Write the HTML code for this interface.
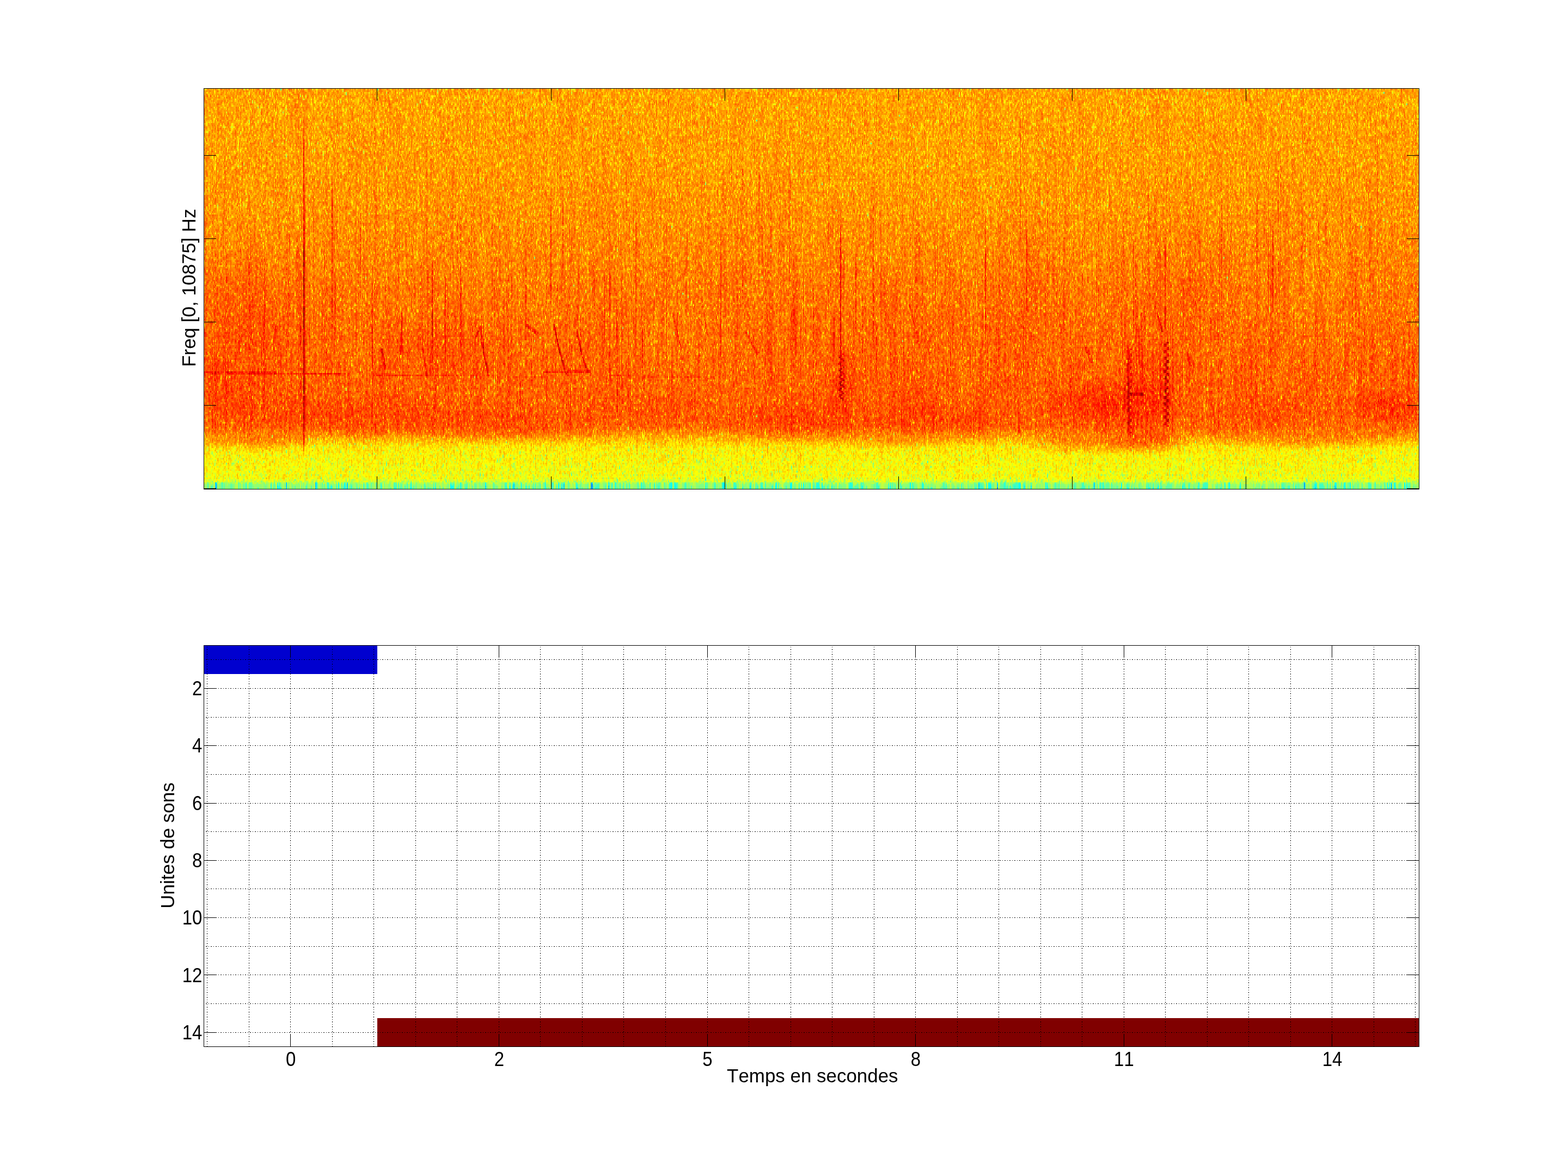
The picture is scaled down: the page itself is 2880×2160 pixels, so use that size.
<!DOCTYPE html>
<html lang="fr"><head><meta charset="utf-8"><title>Spectrogramme - Unites de sons</title>
<style>
html,body{margin:0;padding:0;background:#ffffff;overflow:hidden}
body{width:2880px;height:2160px;position:relative}
svg{position:absolute;left:0;top:0;display:block}
text{font-family:"Liberation Sans", Arial, Helvetica, sans-serif;fill:#000;font-kerning:none}
.tk{font-size:36.2px}
.lb{font-size:35.8px}
.ln{stroke:#000;stroke-width:1;fill:none;shape-rendering:crispEdges}
.gr{stroke:#000;stroke-width:1;fill:none;shape-rendering:crispEdges;stroke-dasharray:1 3 2 3}
</style></head><body>
<svg width="2880" height="2160" viewBox="0 0 2880 2160" role="img" aria-label="Spectrogramme et unites de sons">
<defs>
<linearGradient id="pg" x1="0" y1="0" x2="0" y2="1">
<stop offset="0.000" stop-color="#b5b5b5"/>
<stop offset="0.100" stop-color="#b6b6b6"/>
<stop offset="0.200" stop-color="#b7b7b7"/>
<stop offset="0.300" stop-color="#b9b9b9"/>
<stop offset="0.400" stop-color="#bbbbbb"/>
<stop offset="0.500" stop-color="#bfbfbf"/>
<stop offset="0.600" stop-color="#c2c2c2"/>
<stop offset="0.700" stop-color="#c4c4c4"/>
<stop offset="0.780" stop-color="#c6c6c6"/>
<stop offset="0.846" stop-color="#c4c4c4"/>
<stop offset="0.865" stop-color="#bbbbbb"/>
<stop offset="0.880" stop-color="#afafaf"/>
<stop offset="0.895" stop-color="#a3a3a3"/>
<stop offset="0.930" stop-color="#9f9f9f"/>
<stop offset="0.974" stop-color="#9c9c9c"/>
<stop offset="0.979" stop-color="#959595"/>
<stop offset="0.984" stop-color="#8f8f8f"/>
<stop offset="1.000" stop-color="#858585"/>
</linearGradient>
<radialGradient id="br"><stop offset="0" stop-color="#e6e6e6" stop-opacity="1"/><stop offset="0.5" stop-color="#e6e6e6" stop-opacity="0.6"/><stop offset="1" stop-color="#e6e6e6" stop-opacity="0"/></radialGradient>
<radialGradient id="bl"><stop offset="0" stop-color="#999999" stop-opacity="1"/><stop offset="0.5" stop-color="#999999" stop-opacity="0.6"/><stop offset="1" stop-color="#999999" stop-opacity="0"/></radialGradient>
<linearGradient id="sg" x1="0" y1="0" x2="0" y2="1"><stop offset="0" stop-color="#f5f5f5" stop-opacity="0"/><stop offset="0.2" stop-color="#f5f5f5" stop-opacity="1"/><stop offset="0.85" stop-color="#f5f5f5" stop-opacity="1"/><stop offset="1" stop-color="#f5f5f5" stop-opacity="0"/></linearGradient>
<linearGradient id="fb" x1="0" y1="0" x2="0" y2="1"><stop offset="0.000" stop-color="#fda401"/><stop offset="0.150" stop-color="#fea101"/><stop offset="0.300" stop-color="#ff9500"/><stop offset="0.450" stop-color="#ff7d00"/><stop offset="0.600" stop-color="#ff6700"/><stop offset="0.750" stop-color="#fe5a00"/><stop offset="0.840" stop-color="#ff5700"/><stop offset="0.870" stop-color="#ff8d00"/><stop offset="0.900" stop-color="#f9dc06"/><stop offset="0.950" stop-color="#eff40f"/><stop offset="0.977" stop-color="#dbfa23"/><stop offset="0.985" stop-color="#b4fd4a"/><stop offset="1.000" stop-color="#76fd88"/></linearGradient>
<filter id="jet" filterUnits="userSpaceOnUse" x="375" y="163" width="2231" height="735" color-interpolation-filters="sRGB">
<feTurbulence type="fractalNoise" baseFrequency="0.809 0.4714" numOctaves="1" seed="3" result="t"/><feColorMatrix in="t" type="matrix" values="1 0 0 0 0 1 0 0 0 0 1 0 0 0 0 0 0 0 0 1" result="n"/><feFlood x="375" y="164" width="1" height="1" flood-color="#fff" result="dot"/><feComposite in="dot" in2="dot" operator="over" x="375" y="163" width="2" height="3" result="cell"/><feTile in="cell" result="grid"/><feComposite in="n" in2="grid" operator="in" result="samp"/><feMorphology in="samp" operator="dilate" radius="0 1" result="col"/><feOffset in="col" dx="1" dy="0" result="col2"/><feMerge result="b0"><feMergeNode in="col"/><feMergeNode in="col2"/></feMerge><feOffset in="b0" dy="3" result="b1"/><feComposite in="b0" in2="b1" operator="arithmetic" k1="0" k2="0.70" k3="0.30" k4="0" result="blk"/>
<feComponentTransfer in="blk" result="nz"><feFuncR type="table" tableValues="0.047 0.047 0.047 0.047 0.047 0.047 0.047 0.047 0.047 0.047 0.047 0.047 0.047 0.047 0.047 0.084 0.178 0.264 0.326 0.384 0.429 0.469 0.502 0.533 0.560 0.585 0.607 0.626 0.644 0.662 0.677 0.692 0.707 0.721 0.735 0.747 0.758 0.769 0.780 0.790 0.800 0.810 0.820 0.830 0.839 0.849 0.859 0.868 0.875 0.885 0.885 0.885 0.885 0.885 0.885 0.885 0.885 0.885 0.885 0.885 0.885 0.885 0.885 0.885"/></feComponentTransfer>
<feColorMatrix in="nz" type="matrix" values="1 0 0 0 0 1 0 0 0 0 1 0 0 0 0 0 0 0 0 1" result="ng"/>
<feComposite in="SourceGraphic" in2="grid" operator="in" result="ss"/>
<feMorphology in="ss" operator="dilate" radius="0 1" result="sc"/>
<feOffset in="sc" dx="1" dy="0" result="sc2"/>
<feMerge result="src"><feMergeNode in="sc"/><feMergeNode in="sc2"/></feMerge>
<feTurbulence type="fractalNoise" baseFrequency="0.809 0.011" numOctaves="2" seed="8" result="ct"/>
<feColorMatrix in="ct" type="matrix" values="0 1 0 0 0 0 1 0 0 0 0 1 0 0 0 0 0 0 0 1" result="cn"/>
<feComposite in="cn" in2="grid" operator="in" result="cs"/>
<feMorphology in="cs" operator="dilate" radius="0 1" result="cc"/>
<feOffset in="cc" dx="1" dy="0" result="cc2"/>
<feMerge result="cb"><feMergeNode in="cc"/><feMergeNode in="cc2"/></feMerge>
<feComposite in="src" in2="cb" operator="arithmetic" k1="0" k2="1" k3="0.100" k4="-0.0500" result="src2"/>
<feComposite in="src2" in2="ng" operator="arithmetic" k1="0" k2="1" k3="0.400" k4="-0.2800" result="v"/>
<feComponentTransfer in="v">
<feFuncR type="discrete" tableValues="0 0 0 0 0 0 0 0 0 0 0 0 0 0 0 0 0 0 0 0 0 0 0 0 0.0625 0.125 0.1875 0.25 0.3125 0.375 0.4375 0.5 0.5625 0.625 0.6875 0.75 0.8125 0.875 0.9375 1 1 1 1 1 1 1 1 1 1 1 1 1 1 1 1 1 0.9375 0.875 0.8125 0.75 0.6875 0.625 0.5625 0.5"/>
<feFuncG type="discrete" tableValues="0 0 0 0 0 0 0 0 0.0625 0.125 0.1875 0.25 0.3125 0.375 0.4375 0.5 0.5625 0.625 0.6875 0.75 0.8125 0.875 0.9375 1 1 1 1 1 1 1 1 1 1 1 1 1 1 1 1 1 0.9375 0.875 0.8125 0.75 0.6875 0.625 0.5625 0.5 0.4375 0.375 0.3125 0.25 0.1875 0.125 0.0625 0 0 0 0 0 0 0 0 0"/>
<feFuncB type="discrete" tableValues="0.5625 0.625 0.6875 0.75 0.8125 0.875 0.9375 1 1 1 1 1 1 1 1 1 1 1 1 1 1 1 1 1 0.9375 0.875 0.8125 0.75 0.6875 0.625 0.5625 0.5 0.4375 0.375 0.3125 0.25 0.1875 0.125 0.0625 0 0 0 0 0 0 0 0 0 0 0 0 0 0 0 0 0 0 0 0 0 0 0 0 0"/>
</feComponentTransfer>
</filter>
</defs>
<rect x="375" y="163" width="2231" height="735" fill="url(#fb)"/>
<g filter="url(#jet)">
<rect x="375" y="163" width="2231" height="735" fill="url(#pg)"/>
<ellipse cx="2045" cy="745" rx="150" ry="55" fill="url(#br)" opacity="0.42"/>
<ellipse cx="2110" cy="700" rx="60" ry="90" fill="url(#br)" opacity="0.25"/>
<ellipse cx="2560" cy="748" rx="110" ry="40" fill="url(#br)" opacity="0.35"/>
<ellipse cx="1475" cy="772" rx="170" ry="42" fill="url(#br)" opacity="0.28"/>
<ellipse cx="1730" cy="770" rx="150" ry="40" fill="url(#br)" opacity="0.25"/>
<ellipse cx="1545" cy="700" rx="40" ry="80" fill="url(#br)" opacity="0.25"/>
<ellipse cx="620" cy="760" rx="260" ry="45" fill="url(#br)" opacity="0.22"/>
<ellipse cx="900" cy="775" rx="200" ry="40" fill="url(#br)" opacity="0.22"/>
<ellipse cx="450" cy="620" rx="110" ry="200" fill="url(#br)" opacity="0.20"/>
<ellipse cx="1180" cy="760" rx="140" ry="40" fill="url(#br)" opacity="0.15"/>
<ellipse cx="2330" cy="760" rx="140" ry="40" fill="url(#br)" opacity="0.18"/>
<ellipse cx="820" cy="640" rx="120" ry="70" fill="url(#br)" opacity="0.15"/>
<ellipse cx="2180" cy="520" rx="120" ry="140" fill="url(#br)" opacity="0.10"/>
<ellipse cx="1900" cy="520" rx="70" ry="150" fill="url(#br)" opacity="0.10"/>
<ellipse cx="2040" cy="814" rx="180" ry="24" fill="url(#br)" opacity="0.38"/>
<ellipse cx="2110" cy="805" rx="70" ry="30" fill="url(#br)" opacity="0.30"/>
<ellipse cx="470" cy="812" rx="120" ry="20" fill="url(#br)" opacity="0.28"/>
<ellipse cx="2400" cy="810" rx="210" ry="18" fill="url(#br)" opacity="0.25"/>
<ellipse cx="1650" cy="812" rx="150" ry="16" fill="url(#br)" opacity="0.15"/>
<ellipse cx="1230" cy="802" rx="170" ry="18" fill="url(#bl)" opacity="0.22"/>
<ellipse cx="1250" cy="620" rx="130" ry="110" fill="url(#bl)" opacity="0.10"/>
<ellipse cx="2420" cy="560" rx="110" ry="130" fill="url(#bl)" opacity="0.10"/>
<ellipse cx="1700" cy="330" rx="300" ry="120" fill="url(#bl)" opacity="0.06"/>
<path d="M1904 581V793M748 318V536M1218 442V696M1120 405V664M2520 328V477M866 317V613M1136 444V751M414 547V753M1702 636V700M872 450V679M1868 519V729M1050 283V584M1132 590V795M2262 384V681M1728 591V698M1330 425V575M2580 264V565M2570 426V504M1144 620V754M504 531V795M1436 436V649M1046 409V569M444 481V627M512 392V706M1252 555V795M660 485V617M1512 522V643M2442 438V527M2102 454V640M1096 385V639M1200 499V755M922 670V795M864 517V649M872 349V609M404 572V636M1480 386V693M1652 450V626M1598 609V795M1960 606V700M2178 577V795M782 609V685M2536 627V740M1330 462V714M2492 651V795M1826 514V795M2594 606V755M976 533V795M1410 391V703M384 414V583M788 440V743M562 485V615M806 491V563M1230 365V473M1762 433V665M2062 661V740M866 512V627M2400 489V621M874 485V591M772 636V795M2170 673V740M1698 606V780M1394 318V532M2552 761V795M2526 449V535M1820 429V718M1370 240V480M1676 598V724M2288 354V653M2286 563V795M1306 625V772M1238 426V606M1096 575V785M482 469V736M1658 338V641M1258 555V763M750 301V623M672 384V451M2192 316V580M2082 569V795M1180 395V540M406 452V616M1962 617V691M1330 481V727M678 540V697M418 652V780M2134 576V706M2466 440V577M1164 409V613M1108 206V485M588 683V795M698 528V624M2268 428V603M1778 669V795M600 619V755M2390 544V742M632 539V668M1788 541V795M2132 524V730M1320 521V627M988 446V621M2516 470V533M1448 683V795M1078 722V795M2038 507V768M1454 573V673M1578 420V578M682 304V621M532 433V606M1590 435V761M1684 480V601M2382 530V642M1738 528V761M934 488V624M872 472V636M976 561V622M1276 537V789M1138 491V564M888 505V687M1004 597V792M2426 662V789M688 364V664M2224 571V795M1536 423V640M1486 634V713M734 398V664M2350 431V628M790 450V572M2218 447V527M896 472V693M852 471V678M534 454V673M2510 591V681M2138 219V413M2078 561V795M1546 608V709M2500 565V746M2506 356V680M1462 622V795M648 498V795M2406 677V758M426 580V751M1244 419V550M1312 430V492M1610 229V436M2506 390V666M1430 643V795M2594 424V562M916 305V610M1214 291V355M674 604V795M1146 391V603M596 456V741M1526 732V795M1620 482V751M2016 670V795M1814 537V783M1136 370V682M2382 432V689M2090 432V613M486 646V786M1578 457V736M1942 616V795M2498 679V795M1334 720V795M2290 550V789M1410 512V785M542 532V630M918 469V604M954 457V644M640 375V624M2470 488V739M2436 249V491M2152 636V795M950 704V781M546 413V569M720 512V795M2578 569V795M1496 604V753M1892 464V640M2062 380V697M1094 382V623M394 334V594M1380 596V683M442 431V508M2060 505V795M1042 457V585M1864 537V742M776 448V703M1864 604V694M1790 388V572M414 378V460M2124 529V704M514 594V673M1890 434V738M1206 693V795M788 544V766M1906 508V619M2474 678V795M2036 392V705M930 759V795M552 433V724M1044 649V720M1812 451V661M2186 278V551M1016 527V679M1850 730V795M2288 546V763M1680 568V632M528 428V667M984 452V641M702 581V691M1804 350V670M2578 198V507M1000 204V482M2316 493V567M674 207V441M1248 615V795M1558 643V795M2244 563V795M2478 414V653M458 594V749M1168 471V722M1542 503V666M2050 453V740M2490 270V593M1324 666V795M716 507V761M816 484V732M972 456V765M640 653V748M1462 400V553M2046 420V515M400 451V778M2008 638V795M1476 636V702M564 421V503M1030 307V503M2202 412V693M1994 707V795M1670 607V762M1366 288V594M1512 452V643M740 453V726M554 419V738M870 378V504M1936 284V538M1924 566V795M1234 266V387M2186 636V795M1782 492V696M834 605V747M874 624V714M1384 485V768M2206 630V795M1968 565V795M952 445V556M2602 590V657M608 529V782M1796 460V787M2164 515V722M986 631V795M1964 429V499M2046 502V693M2042 352V621M538 571V655M1418 389V579M2506 515V628M2390 286V595M1654 515V651M1440 517V645M1458 499V702M1840 537V631M2604 501V598M1502 346V645M2442 553V795M2180 483V551M764 375V607M766 562V790M2330 338V612M1178 520V670M622 472V631M2472 530V689M494 543V648M728 483V779M1898 388V574M1082 619V759" stroke="#e6e6e6" stroke-width="2" opacity="0.06" fill="none"/>
<path d="M1168 334V467M1774 516V584M1046 569V656M1882 713V795M2098 454V763M1208 548V753M388 632V731M2498 724V795M868 390V469M1174 373V635M520 467V601M2342 636V710M1274 343V585M684 378V672M1684 563V754M1224 552V761M2054 522V723M1598 664V758M608 442V534M1262 389V576M1114 409V712M1210 570V635M2020 465V739M2178 203V398M2250 704V771M2224 480V639M2308 428V549M2388 460V582M1256 594V795M1646 432V649M946 577V752M1084 452V770M2584 644V754M822 640V795M1662 396V635M2150 619V795M1598 703V795M964 369V659M822 614V678M2098 610V795M2062 451V662M1368 565V743M1312 629V795M924 688V781M1736 331V600M2496 573V652M1688 463V789M440 608V795M1198 488V584M1844 651V795M2070 538V755M1766 420V676M412 489V592M826 477V713M1888 589V795M1470 593V751M846 528V795M762 603V795M730 593V795M1134 464V730M1180 728V795M1648 545V731M2086 419V629M1488 302V538M1434 385V515M1868 543V670M1824 363V636M1846 507V752M1020 625V795M1132 518V690M1956 437V644M1236 626V795M1158 579V795M2346 506V579M690 580V750M1956 399V673M2406 397V634M2424 457V738M1830 557V784M940 460V667M918 356V674M1352 412V732M1264 561V745M2136 503V795M1976 464V789M1522 276V571M1498 554V795M732 575V646M2282 601V795M2340 594V729M2268 563V795M2118 501V717M554 513V659M832 306V558M2590 582V665M2462 562V795M2254 201V483M932 469V701M882 599V675M426 653V795M988 393V683M1724 546V768M1546 631V718M816 550V730M1558 539V680M1120 477V783M2588 333V656M1082 422V600M702 713V795M1726 664V761M658 418V683M1004 463V791M1164 305V598M1720 703V795M1780 470V577M624 570V758M636 553V657M2336 733V795M702 590V795M2442 459V755M396 639V795M2422 346V624M2098 464V687M2556 371V646M870 514V766M1644 458V632M1714 582V779M2396 534V618M1910 343V648M570 706V795M1184 515V700M410 403V591M1686 342V644M1406 599V687M468 386V454M2336 503V766M1732 311V614M2302 604V742M2090 541V779M2268 518V692M1814 577V795M800 650V727M378 338V557M1934 461V539M1604 450V549M1354 576V727M2216 533V708M2420 526V641M852 435V640M2014 654V795M1372 332V613M2556 467V764M1264 514V598M1722 273V526M1330 369V534M1420 477V684M1874 482V703M592 521V795M1742 435V753M998 631V795M790 539V692M1352 455V683M1032 410V504M500 773V795M1726 569V678M1682 280V604M1820 658V751M668 431V633M1354 360V572M1386 663V795M2302 359V498M2292 592V665M1374 398V709M520 486V699M1572 539V734M2186 404V558M976 588V702M2440 617V756M1082 335V559M616 526V681M1452 342V648M850 552V661M2378 602V795M1836 316V605M1068 612V795M376 571V677M692 689V795M1684 378V521M1120 546V756M2512 555V740M1416 627V690M966 532V697M586 732V795M2418 492V698M2018 404V594M1966 554V725M816 368V530M2584 478V751M1340 635V795M514 409V663M2358 325V628M2238 604V795M532 688V795M2156 530V737M678 595V699" stroke="#e6e6e6" stroke-width="2" opacity="0.10" fill="none"/>
<path d="M2198 763V795M2038 344V422M2124 555V627M1886 440V571M1032 492V574M1708 492V711M1966 557V713M1284 510V659M2588 609V777M2194 503V609M2338 356V658M2330 298V620M2066 427V752M2414 646V795M2562 646V795M1014 731V795M1040 549V654M1098 460V595M2096 532V642M576 351V588M2496 546V727M1476 512V719M2352 303V578M1210 646V795M884 616V768M2334 509V700M1718 370V664M2130 434V691M824 540V753M1394 288V579M1120 498V722M1988 263V326M1224 397V679M2076 631V795M1764 374V664M832 308V409M2298 580V789M1500 465V737M1656 716V795M568 428V621M1042 557V632M1288 447V582M440 572V640M1434 465V600M1242 598V742M988 629V795M552 603V740M404 485V698M722 609V693M378 452V727M2240 399V699M714 488V577M2538 292V598M2166 664V757M822 512V573M1870 649V795M2088 448V737M1660 624V776M2006 464V630M990 299V360M412 620V708M2018 531V747M652 389V506M2392 381V519M684 458V777M2544 473V790M1432 389V458M1438 371V538M2238 613V791M1288 324V641M1362 433V529M2132 469V786M610 291V399M1248 476V554M924 545V671M1440 436V667M912 447V628M654 356V674M920 608V773M768 592V790M784 270V513M1564 642V739M1400 360V644M1082 435V599M1454 565V795M1216 496V712M2506 552V795M1462 593V795M1584 544V671M1234 626V761M1036 502V570M1106 330V655M1676 477V606M1924 348V518M2148 418V506M790 613V795M2140 561V763M674 436V703M1988 446V692M2142 314V624M1902 501V795M1220 377V616M1036 531V675M586 535V680M1062 467V663M1550 459V736M2014 280V587M1618 411V608M1744 482V649M2124 339V624M1876 416V580M1224 537V699M840 402V618M966 494V795" stroke="#e6e6e6" stroke-width="2" opacity="0.16" fill="none"/>
<path d="M2082 443V720M1048 650V792M1604 378V634M2204 412V648M690 760V795M616 493V624M966 415V592M1168 408V671M786 497V658M846 413V645M1066 521V646M2360 527V610M614 603V673M848 509V673M2244 363V677M1494 529V749M1954 436V659M1880 597V698M2416 582V672M1120 503V586M904 395V589M1618 497V584M1450 285V518M486 475V777M2086 473V660M1610 595V682M2348 311V611M1244 516V680M1364 306V559M1262 428V494M1110 500V631M2530 267V485M2132 657V736M2088 635V795M2154 594V795M1660 568V650M956 542V795M414 657V795M1142 502V721M1134 550V757M2082 491V790M2064 390V512M1874 221V469" stroke="#ebebeb" stroke-width="2" opacity="0.25" fill="none"/>
<path d="M1140 608V764M2076 683V744M1326 517V617M1944 370V698M1174 714V794M1952 673V795M1400 452V574M1630 489V665M1024 588V675M1510 446V762M1420 478V791M2510 561V681M1454 598V659M1152 451V781M394 596V659M1014 583V764M1298 513V666M2332 463V767M2024 457V694M546 687V795M680 686V795M376 490V734M1114 570V684M1098 337V601M2448 451V742M1080 319V586M1572 455V699M1726 565V795M1398 200V376M2024 363V671M684 399V610M1044 337V481M2158 444V529M2512 569V720M1736 554V795M1876 503V759M892 348V554M1014 575V655M1698 439V719M766 530V795M1078 306V561M1444 557V723M580 687V795M940 666V747M2216 424V485M1000 393V611M956 503V786M2400 288V593M1202 599V795M1484 414V559M1162 439V633M2176 547V795M566 495V775M1930 441V688M890 448V687M2012 464V700M2486 542V744M404 449V652M1138 362V633M2404 407V516M1576 532V795M1568 640V795M2440 300V472M1226 542V701M1250 679V795M1336 443V505M686 458V764M1424 394V603M1748 421V749M2220 372V609M1676 243V369M888 626V795M1998 477V580M1830 478V596M922 557V715M752 391V527M912 452V739M2548 388V503M1292 507V703M918 651V795M1222 526V795M1724 392V551M936 369V625M950 567V637M422 378V510M2348 505V633M2428 310V568M1130 570V760M1272 547V648M456 618V733M1514 441V753M788 511V760M1784 482V773M2174 613V794M1702 372V585M2094 351V656M1868 675V795M1418 340V510M1570 432V618M988 387V563" stroke="#999999" stroke-width="2" opacity="0.07" fill="none"/>
<path d="M639 678V802M1081 554V739M1405 534V686M1459 480V692M2515 316V525M1547 464V684M2193 639V802M1643 511V782M1799 633V797M2307 447V742M627 527V644M1107 568V802M1505 673V783M931 580V802M1659 645V802M2463 762V802M459 672V802M1459 472V660M1129 492V644M1681 435V681M1167 442V712M1803 576V802M1385 591V722M1751 435V520M1527 372V663M771 505V626M1419 689V802M1617 689V802M1539 444V548M2393 529V703M633 662V802M1691 433V682M2567 646V774M1691 619V802M2555 627V802M1455 518V677M2333 456V721M875 579V706M2391 476V677M2551 485V599M2095 573V711M2271 671V802M1193 545V731M1307 570V802M1933 629V762M1551 635V789M1303 392V577M2323 371V510M689 313V556M2481 392V567M1723 672V802M611 333V625M395 491V754M1835 408V707M2433 374V653M1529 696V802M1917 649V738M549 461V746M1929 549V788M1085 640V802M2259 456V569M1119 449V697M2595 615V710M2521 602V802M1089 421V569M705 525V616M1111 495V670M2023 584V752M829 378V585M1413 528V802" stroke="#ebebeb" stroke-width="6" opacity="0.10" fill="none"/>
<path d="M2027 589V802M2173 576V721M1849 462V708M1153 657V741M2561 636V802M1983 501V701M1319 518V675M2519 402V686M1049 313V481M459 608V784M1413 431V710M699 598V802M1349 492V713M733 718V802M1459 578V782M1039 646V802M1669 612V802M2363 376V611M797 566V802M1627 473V612M419 545V802M2171 512V769M1709 592V802M1279 521V769M1459 466V614M1281 444V718M715 564V653M2333 442V677M2121 340V627M935 447V744M1879 568V689M1299 691V802M1843 427V587M595 428V678M1587 561V789M1067 583V702M1059 498V643M419 464V745M1355 435V684M1697 515V748M2457 525V620M393 664V802M2481 446V531M1503 579V674M2345 462V683M1639 521V765M503 596V737M2297 633V802M455 360V590M605 523V680M1635 640V802M1867 595V802M1697 509V785M2487 451V641M553 536V657M2097 525V650M1211 536V640M2563 502V677M1831 559V716M2473 524V673M1329 336V622M727 385V535M795 481V657M443 701V785M1601 343V635M1897 520V770M2427 486V644M1683 698V802M2427 533V649M1605 587V788M1873 576V796M2507 660V750M2227 582V802M547 428V582M527 426V646M1749 494V741M2187 494V740M747 587V691M1179 525V735" stroke="#ebebeb" stroke-width="10" opacity="0.07" fill="none"/>
<path d="M2410 793V820M1848 793V826M1936 811V835M2400 787V820M676 817V829M1674 799V820M2362 781V805M2062 796V826M2488 787V823M1410 808V832M910 793V817M1714 820V850M1092 784V799M2092 799V835M2540 820V853M2546 820V841M1586 805V838M654 793V820M1278 820V847M1806 817V832M1340 787V799M960 805V826M1526 793V811M1542 817V847M1444 796V811M1642 814V850M2554 784V805M1912 787V817M2592 796V823M1398 799V811M1816 820V853M1540 790V808M506 784V817M1810 784V805M1670 787V811M1670 790V808M1568 823V838M572 781V793M496 820V832M2238 817V841M2518 811V835M588 781V796M1508 796V817M2586 784V796M1196 787V799M1076 814V835M1352 820V835M1720 790V805M1352 805V817M1112 808V823M1382 802V832M1582 802V838M2306 787V808M1698 793V820M1634 811V820M1132 799V817M2020 793V823M986 787V805M1764 787V796M1532 811V832M1384 817V850M1766 814V838M1140 811V838M482 820V835M2110 817V829M988 790V823M776 796V817M1700 814V829M684 814V841M1182 820V850M1896 802V820M958 811V823M2314 808V826M1222 781V796M824 805V817M1226 808V844M688 811V823M1736 811V835M878 787V823M1236 823V856M1170 802V817M376 817V838M2440 802V814M1940 799V808M1318 805V826M1826 808V835M1972 811V832M1528 790V826M382 808V820M1614 802V826M610 796V832M968 796V808M1178 817V844M384 802V835M582 793V805M492 784V811M2526 793V814M636 793V817M1190 808V832M1216 820V847M1782 820V838M616 787V814M2478 796V826M2200 811V832M1394 802V832M1824 814V835M1406 820V853M530 784V799M444 799V811M1212 787V820M870 811V841M1682 796V811M542 796V805M1158 805V823M1782 796V814M712 799V817M2350 817V829M2454 814V826M1716 811V841M930 814V832M682 796V811M1432 817V835M1682 793V811M2424 814V844M2476 781V796M498 817V844M2146 781V790M2292 814V838M1092 793V808M1436 817V841M768 802V826M464 793V817M1988 790V805M2018 805V835M1452 799V814M840 817V829M2126 781V793M1022 787V817M1772 802V814M1726 796V817M1436 790V823M376 787V802M876 808V829M2366 784V814M1856 817V847M1136 793V805M1448 808V826M1560 814V835M2098 790V817M1828 814V844M1738 781V802M1628 784V796M2212 817V850M2012 784V802M1864 805V820M1196 799V829M2156 781V790M1472 808V835M1888 805V835M1334 793V805M2064 805V826M2038 787V814M1016 799V814M1892 820V838M1406 811V844M678 799V826M1646 820V838M1276 811V832M1096 790V802M1768 790V802M2090 781V811" stroke="#bdbdbd" stroke-width="2" opacity="0.20" fill="none"/>
<path d="M2130 805V838M1858 823V850M2548 808V817M778 817V853M1812 784V805M966 784V811M1866 823V853M2174 808V832M2146 781V799M1332 820V841M1620 811V847M2328 802V835M426 781V808M1514 787V802M2110 790V814M2208 787V799M1620 823V835M1456 793V802M844 784V811M1594 808V835M398 796V832M466 784V814M1338 790V814M2168 817V829M742 787V817M1036 784V802M2404 820V832M2116 820V835M758 799V820M1248 811V844M1618 811V832M574 799V829M1096 790V817M1004 823V856M2166 805V826M1064 781V790M1958 811V835M1458 799V811M1200 787V823M738 793V817M1410 796V820M1572 805V841M2108 802V820M428 784V805M1300 787V805M2070 796V829M1894 790V808M2604 799V808M404 805V832M830 796V814M2164 781V799M1158 811V835M1712 805V826M1358 796V820M904 784V805M1452 808V835M856 781V796M662 784V802M1170 817V838M1012 799V835M1632 790V808M926 820V847M1548 787V802M1290 814V835M1324 808V823M828 811V844M1466 820V856M1056 817V844M652 796V820M782 787V808M518 805V832M1676 820V829M2068 793V811M834 820V832M780 787V820M1460 799V832M2572 799V832M1152 817V847M1840 817V844M1704 802V811M2324 808V829M1718 802V817M2404 799V835M1622 811V838M624 814V838M1882 790V814M2346 781V808M2066 793V808M1592 784V802M1470 820V853M1956 817V832" stroke="#bdbdbd" stroke-width="2" opacity="0.32" fill="none"/>
<path d="M2540 829V850M1012 820V841M2356 817V826M592 850V862M1022 823V844M1924 832V841M1550 832V841M1252 847V868M2504 841V856M2182 820V844M1750 859V880M1844 868V877M1482 850V865M666 862V871M1062 856V871M1316 865V874M2084 817V835M2530 844V853M2572 817V829M2234 835V856M2188 859V883M2286 820V841M2322 847V856M542 853V859M622 844V856M1696 841V859M1268 823V847M654 820V832M988 823V838M2202 853V859M1566 874V883M2026 817V826M1986 823V847M1608 844V856M1962 835V859M2332 820V829M1396 868V874M636 865V884M2048 826V847M1588 844V856M494 829V841M718 850V859M1046 853V865M2330 847V853M1268 856V865M2542 865V883M1000 871V880M1646 832V850M1910 835V850M2078 844V868M1524 856V874M1450 817V826M1228 871V884M1624 823V835M1990 841V847M612 865V874M634 847V856M1118 844V859M1886 838V847M1970 859V877M2050 859V880M1044 865V883M752 850V862M1244 829V838M980 871V880M1778 850V862M2394 829V844M2114 850V871M2032 871V884M930 826V832M2034 868V883M2604 820V835M1138 865V871M538 844V865M1228 832V844M838 823V832M2506 859V871M2462 871V884M850 871V884M2012 817V835M856 835V856M2446 853V871M1082 874V884M1244 835V850M640 829V844M514 856V865M1450 868V880M2532 841V865M1000 814V829M2600 826V838M422 874V884M1718 874V884M2520 826V832M2308 868V877M1650 841V847M706 841V850M1224 862V871M1474 856V877M1838 832V853M1272 817V829M394 820V832M828 862V884M2352 823V838M1054 874V883M2558 826V838M2294 865V884M1860 823V838M406 817V835M1424 817V835M1400 829V838M388 871V877M966 868V884M1192 832V856M840 835V841M578 841V853M2062 865V884M1286 826V838M922 856V877" stroke="#8f8f8f" stroke-width="2" opacity="0.20" fill="none"/>
<rect x="557.0" y="175" width="2" height="670" fill="url(#sg)" opacity="0.62"/>
<rect x="557.0" y="380" width="2" height="465" fill="url(#sg)" opacity="0.70"/>
<rect x="559.0" y="300" width="2" height="535" fill="url(#sg)" opacity="0.45"/>
<rect x="608.0" y="330" width="2" height="280" fill="url(#sg)" opacity="0.40"/>
<rect x="792.0" y="470" width="2" height="230" fill="url(#sg)" opacity="0.43"/>
<rect x="816.0" y="480" width="2" height="200" fill="url(#sg)" opacity="0.36"/>
<rect x="1011.0" y="350" width="2" height="240" fill="url(#sg)" opacity="0.32"/>
<rect x="1033.0" y="330" width="2" height="190" fill="url(#sg)" opacity="0.22"/>
<rect x="457.0" y="480" width="2" height="110" fill="url(#sg)" opacity="0.25"/>
<rect x="660.0" y="380" width="2" height="180" fill="url(#sg)" opacity="0.22"/>
<rect x="683.0" y="500" width="2" height="200" fill="url(#sg)" opacity="0.25"/>
<rect x="1542.0" y="375" width="2" height="365" fill="url(#sg)" opacity="0.58"/>
<rect x="1530.0" y="565" width="2" height="95" fill="url(#sg)" opacity="0.43"/>
<rect x="1571.0" y="460" width="2" height="165" fill="url(#sg)" opacity="0.40"/>
<rect x="1322.0" y="384" width="2" height="306" fill="url(#sg)" opacity="0.32"/>
<rect x="1808.0" y="375" width="2" height="260" fill="url(#sg)" opacity="0.36"/>
<rect x="1148.0" y="308" width="2" height="142" fill="url(#sg)" opacity="0.22"/>
<rect x="1178.0" y="595" width="2" height="95" fill="url(#sg)" opacity="0.36"/>
<rect x="1687.0" y="410" width="2" height="110" fill="url(#sg)" opacity="0.22"/>
<rect x="1885.0" y="400" width="2" height="180" fill="url(#sg)" opacity="0.36"/>
<rect x="2070.5" y="620" width="3" height="195" fill="url(#sg)" opacity="0.61"/>
<rect x="2091.0" y="595" width="2" height="80" fill="url(#sg)" opacity="0.40"/>
<rect x="2138.0" y="410" width="2" height="220" fill="url(#sg)" opacity="0.36"/>
<rect x="2109.0" y="330" width="2" height="235" fill="url(#sg)" opacity="0.22"/>
<rect x="2337.0" y="410" width="2" height="155" fill="url(#sg)" opacity="0.32"/>
<rect x="2307.5" y="339" width="3" height="161" fill="url(#sg)" opacity="0.20"/>
<rect x="2246.0" y="420" width="2" height="60" fill="url(#sg)" opacity="0.22"/>
<rect x="1414.0" y="300" width="2" height="220" fill="url(#sg)" opacity="0.18"/>
<rect x="1259.0" y="420" width="2" height="180" fill="url(#sg)" opacity="0.18"/>
<rect x="924.0" y="520" width="2" height="170" fill="url(#sg)" opacity="0.22"/>
<rect x="744.0" y="300" width="2" height="220" fill="url(#sg)" opacity="0.14"/>
<polyline points="375,684 505,685" stroke="#f2f2f2" stroke-width="5" stroke-linecap="round" stroke-linejoin="round" opacity="0.38" fill="none"/>
<polyline points="505,686 640,688" stroke="#f2f2f2" stroke-width="4" stroke-linecap="round" stroke-linejoin="round" opacity="0.28" fill="none"/>
<polyline points="566,686 625,686" stroke="#f2f2f2" stroke-width="4" stroke-linecap="round" stroke-linejoin="round" opacity="0.30" fill="none"/>
<polyline points="684,688 775,690" stroke="#f2f2f2" stroke-width="4" stroke-linecap="round" stroke-linejoin="round" opacity="0.35" fill="none"/>
<polyline points="775,690 1000,692" stroke="#f2f2f2" stroke-width="3" stroke-linecap="round" stroke-linejoin="round" opacity="0.18" fill="none"/>
<polyline points="1000,683 1085,682" stroke="#f2f2f2" stroke-width="4" stroke-linecap="round" stroke-linejoin="round" opacity="0.40" fill="none"/>
<polyline points="1120,690 1310,694" stroke="#f2f2f2" stroke-width="3" stroke-linecap="round" stroke-linejoin="round" opacity="0.22" fill="none"/>
<polyline points="1017,597 1026,640 1039,686" stroke="#f2f2f2" stroke-width="3" stroke-linecap="round" stroke-linejoin="round" opacity="0.70" fill="none"/>
<polyline points="1059,610 1068,650 1079,684" stroke="#f2f2f2" stroke-width="3" stroke-linecap="round" stroke-linejoin="round" opacity="0.60" fill="none"/>
<polyline points="700,641 707,676" stroke="#f2f2f2" stroke-width="4" stroke-linecap="round" stroke-linejoin="round" opacity="0.55" fill="none"/>
<polyline points="738,574 736,650" stroke="#f2f2f2" stroke-width="3" stroke-linecap="round" stroke-linejoin="round" opacity="0.50" fill="none"/>
<polyline points="775,632 784,694" stroke="#f2f2f2" stroke-width="3" stroke-linecap="round" stroke-linejoin="round" opacity="0.50" fill="none"/>
<polyline points="871,625 882,600 888,641" stroke="#f2f2f2" stroke-width="3" stroke-linecap="round" stroke-linejoin="round" opacity="0.50" fill="none"/>
<polyline points="884,628 897,690" stroke="#f2f2f2" stroke-width="3" stroke-linecap="round" stroke-linejoin="round" opacity="0.55" fill="none"/>
<polyline points="968,598 985,612" stroke="#f2f2f2" stroke-width="6" stroke-linecap="round" stroke-linejoin="round" opacity="0.45" fill="none"/>
<polyline points="1235,575 1250,640" stroke="#f2f2f2" stroke-width="3" stroke-linecap="round" stroke-linejoin="round" opacity="0.35" fill="none"/>
<polyline points="1290,560 1300,620" stroke="#f2f2f2" stroke-width="3" stroke-linecap="round" stroke-linejoin="round" opacity="0.35" fill="none"/>
<polyline points="1370,610 1390,650" stroke="#f2f2f2" stroke-width="3" stroke-linecap="round" stroke-linejoin="round" opacity="0.35" fill="none"/>
<polyline points="1670,560 1690,640" stroke="#f2f2f2" stroke-width="3" stroke-linecap="round" stroke-linejoin="round" opacity="0.30" fill="none"/>
<polyline points="2072,724 2100,724" stroke="#f2f2f2" stroke-width="4" stroke-linecap="round" stroke-linejoin="round" opacity="0.65" fill="none"/>
<polyline points="1995,640 2005,665" stroke="#f2f2f2" stroke-width="6" stroke-linecap="round" stroke-linejoin="round" opacity="0.40" fill="none"/>
<polyline points="2180,650 2186,672" stroke="#f2f2f2" stroke-width="4" stroke-linecap="round" stroke-linejoin="round" opacity="0.40" fill="none"/>
<polyline points="2120,560 2135,610" stroke="#f2f2f2" stroke-width="3" stroke-linecap="round" stroke-linejoin="round" opacity="0.40" fill="none"/>
<polyline points="1549,650 1541,656 1549,662 1541,668 1549,674 1541,680 1549,686 1541,692 1549,698 1541,704 1549,710 1541,716 1549,722 1541,728 1549,734" stroke="#f7f7f7" stroke-width="3" stroke-linejoin="round" opacity="0.65" fill="none"/>
<polyline points="2146,628 2138,634 2146,640 2138,646 2146,652 2138,658 2146,664 2138,670 2146,676 2138,682 2146,688 2138,694 2146,700 2138,706 2146,712 2138,718 2146,724 2138,730 2146,736 2138,742 2146,748 2138,754 2146,760 2138,766 2146,772 2138,778 2146,784" stroke="#f7f7f7" stroke-width="3" stroke-linejoin="round" opacity="0.70" fill="none"/>
<polyline points="2078,640 2070,646 2078,652 2070,658 2078,664 2070,670 2078,676 2070,682 2078,688 2070,694 2078,700 2070,706 2078,712 2070,718 2078,724 2070,730 2078,736 2070,742 2078,748 2070,754 2078,760 2070,766 2078,772 2070,778 2078,784 2070,790 2078,796" stroke="#f7f7f7" stroke-width="3" stroke-linejoin="round" opacity="0.45" fill="none"/>
</g>
<g stroke-width="2" fill="none" shape-rendering="crispEdges">
<path d="M394 886V898M436 886V898M508 886V898M520 886V898M552 886V898M578 886V898M630 886V898M666 886V898M704 886V898M810 886V898M836 886V898M934 886V898M954 886V898M1020 886V898M1050 886V898M1056 886V898M1082 886V898M1084 886V898M1116 886V898M1148 886V898M1218 886V898M1274 886V898M1306 886V898M1344 886V898M1386 886V898M1422 886V898M1436 886V898M1438 886V898M1470 886V898M1474 886V898M1490 886V898M1538 886V898M1540 886V898M1556 886V898M1620 886V898M1622 886V898M1746 886V898M1754 886V898M1776 886V898M1810 886V898M1814 886V898M1830 886V898M1836 886V898M1854 886V898M1886 886V898M1898 886V898M1900 886V898M1902 886V898M1918 886V898M1932 886V898M1970 886V898M2018 886V898M2062 886V898M2098 886V898M2158 886V898M2220 886V898M2222 886V898M2224 886V898M2230 886V898M2246 886V898M2316 886V898M2326 886V898M2328 886V898M2342 886V898M2352 886V898M2408 886V898M2446 886V898M2506 886V898M2546 886V898M2558 886V898M2578 886V898" stroke="#bfff40"/>
<path d="M400 886V898M418 886V898M432 886V898M434 886V898M444 886V898M494 886V898M496 886V898M500 886V898M534 886V898M560 886V898M586 886V898M598 886V898M626 886V898M658 886V898M688 886V898M694 886V898M718 886V898M720 886V898M722 886V898M730 886V898M734 886V898M758 886V898M776 886V898M794 886V898M808 886V898M816 886V898M818 886V898M820 886V898M826 886V898M852 886V898M860 886V898M864 886V898M868 886V898M870 886V898M878 886V898M884 886V898M898 886V898M900 886V898M902 886V898M904 886V898M914 886V898M916 886V898M918 886V898M920 886V898M932 886V898M940 886V898M964 886V898M970 886V898M974 886V898M986 886V898M994 886V898M996 886V898M1008 886V898M1010 886V898M1012 886V898M1018 886V898M1040 886V898M1048 886V898M1106 886V898M1128 886V898M1142 886V898M1160 886V898M1174 886V898M1196 886V898M1204 886V898M1216 886V898M1226 886V898M1236 886V898M1250 886V898M1252 886V898M1276 886V898M1294 886V898M1302 886V898M1324 886V898M1336 886V898M1346 886V898M1358 886V898M1362 886V898M1382 886V898M1394 886V898M1464 886V898M1492 886V898M1508 886V898M1512 886V898M1526 886V898M1568 886V898M1570 886V898M1594 886V898M1598 886V898M1618 886V898M1624 886V898M1646 886V898M1686 886V898M1688 886V898M1720 886V898M1722 886V898M1724 886V898M1740 886V898M1756 886V898M1764 886V898M1772 886V898M1774 886V898M1780 886V898M1834 886V898M1876 886V898M1960 886V898M2006 886V898M2058 886V898M2064 886V898M2076 886V898M2090 886V898M2102 886V898M2104 886V898M2130 886V898M2142 886V898M2160 886V898M2170 886V898M2254 886V898M2272 886V898M2274 886V898M2276 886V898M2282 886V898M2292 886V898M2294 886V898M2296 886V898M2300 886V898M2306 886V898M2348 886V898M2378 886V898M2406 886V898M2450 886V898M2482 886V898M2498 886V898M2520 886V898M2522 886V898M2534 886V898M2540 886V898M2566 886V898M2576 886V898M2594 886V898" stroke="#afff50"/>
<path d="M376 886V898M380 886V898M384 886V898M386 886V898M388 886V898M454 886V898M456 886V898M466 886V898M468 886V898M482 886V898M492 886V898M524 886V898M532 886V898M540 886V898M542 886V898M556 886V898M566 886V898M568 886V898M570 886V898M572 886V898M574 886V898M606 886V898M616 886V898M620 886V898M624 886V898M640 886V898M642 886V898M652 886V898M662 886V898M672 886V898M708 886V898M710 886V898M712 886V898M740 886V898M742 886V898M752 886V898M762 886V898M768 886V898M772 886V898M774 886V898M784 886V898M790 886V898M802 886V898M804 886V898M806 886V898M812 886V898M838 886V898M912 886V898M924 886V898M960 886V898M968 886V898M976 886V898M978 886V898M1004 886V898M1024 886V898M1038 886V898M1042 886V898M1052 886V898M1054 886V898M1070 886V898M1072 886V898M1074 886V898M1102 886V898M1104 886V898M1122 886V898M1154 886V898M1162 886V898M1164 886V898M1176 886V898M1188 886V898M1192 886V898M1198 886V898M1200 886V898M1248 886V898M1268 886V898M1270 886V898M1272 886V898M1278 886V898M1320 886V898M1332 886V898M1340 886V898M1360 886V898M1366 886V898M1372 886V898M1374 886V898M1402 886V898M1404 886V898M1410 886V898M1428 886V898M1432 886V898M1456 886V898M1458 886V898M1466 886V898M1482 886V898M1498 886V898M1524 886V898M1532 886V898M1572 886V898M1578 886V898M1590 886V898M1592 886V898M1596 886V898M1626 886V898M1628 886V898M1630 886V898M1642 886V898M1650 886V898M1652 886V898M1704 886V898M1708 886V898M1716 886V898M1718 886V898M1726 886V898M1728 886V898M1730 886V898M1788 886V898M1828 886V898M1878 886V898M1892 886V898M1896 886V898M1908 886V898M1912 886V898M1914 886V898M1926 886V898M1930 886V898M1948 886V898M1956 886V898M1958 886V898M1964 886V898M1980 886V898M1998 886V898M2002 886V898M2004 886V898M2040 886V898M2054 886V898M2086 886V898M2088 886V898M2100 886V898M2116 886V898M2166 886V898M2178 886V898M2180 886V898M2190 886V898M2206 886V898M2208 886V898M2226 886V898M2252 886V898M2262 886V898M2268 886V898M2284 886V898M2298 886V898M2304 886V898M2318 886V898M2324 886V898M2330 886V898M2332 886V898M2346 886V898M2350 886V898M2372 886V898M2400 886V898M2402 886V898M2420 886V898M2422 886V898M2432 886V898M2436 886V898M2460 886V898M2462 886V898M2466 886V898M2474 886V898M2486 886V898M2500 886V898M2504 886V898M2508 886V898M2550 886V898M2582 886V898M2592 886V898M2600 886V898M2602 886V898M2604 886V898M2606 886V898" stroke="#9fff60"/>
<path d="M378 886V898M392 886V898M402 886V898M414 886V898M416 886V898M446 886V898M450 886V898M470 886V898M472 886V898M474 886V898M476 886V898M478 886V898M480 886V898M484 886V898M488 886V898M506 886V898M512 886V898M516 886V898M528 886V898M538 886V898M544 886V898M546 886V898M548 886V898M554 886V898M562 886V898M576 886V898M588 886V898M590 886V898M594 886V898M600 886V898M610 886V898M612 886V898M614 886V898M648 886V898M650 886V898M664 886V898M678 886V898M680 886V898M684 886V898M686 886V898M690 886V898M696 886V898M698 886V898M702 886V898M746 886V898M750 886V898M760 886V898M766 886V898M770 886V898M778 886V898M782 886V898M788 886V898M792 886V898M798 886V898M814 886V898M840 886V898M850 886V898M866 886V898M886 886V898M894 886V898M896 886V898M910 886V898M922 886V898M926 886V898M952 886V898M982 886V898M988 886V898M990 886V898M1006 886V898M1064 886V898M1126 886V898M1136 886V898M1144 886V898M1158 886V898M1166 886V898M1168 886V898M1186 886V898M1190 886V898M1214 886V898M1246 886V898M1262 886V898M1282 886V898M1284 886V898M1304 886V898M1308 886V898M1310 886V898M1316 886V898M1322 886V898M1338 886V898M1342 886V898M1354 886V898M1368 886V898M1408 886V898M1412 886V898M1418 886V898M1434 886V898M1462 886V898M1514 886V898M1516 886V898M1518 886V898M1520 886V898M1534 886V898M1546 886V898M1548 886V898M1554 886V898M1558 886V898M1600 886V898M1602 886V898M1634 886V898M1638 886V898M1656 886V898M1658 886V898M1660 886V898M1662 886V898M1664 886V898M1674 886V898M1690 886V898M1692 886V898M1698 886V898M1700 886V898M1702 886V898M1714 886V898M1742 886V898M1744 886V898M1748 886V898M1752 886V898M1758 886V898M1782 886V898M1784 886V898M1796 886V898M1808 886V898M1822 886V898M1826 886V898M1858 886V898M1884 886V898M1888 886V898M1890 886V898M1906 886V898M1916 886V898M1934 886V898M1952 886V898M1966 886V898M1978 886V898M1982 886V898M1992 886V898M1996 886V898M2000 886V898M2012 886V898M2014 886V898M2046 886V898M2056 886V898M2066 886V898M2068 886V898M2078 886V898M2082 886V898M2120 886V898M2134 886V898M2136 886V898M2138 886V898M2140 886V898M2154 886V898M2156 886V898M2164 886V898M2182 886V898M2188 886V898M2192 886V898M2196 886V898M2198 886V898M2204 886V898M2232 886V898M2234 886V898M2238 886V898M2248 886V898M2264 886V898M2266 886V898M2280 886V898M2286 886V898M2288 886V898M2290 886V898M2310 886V898M2334 886V898M2336 886V898M2340 886V898M2364 886V898M2370 886V898M2374 886V898M2388 886V898M2434 886V898M2440 886V898M2442 886V898M2456 886V898M2492 886V898M2510 886V898M2512 886V898M2528 886V898M2530 886V898M2532 886V898M2536 886V898M2568 886V898M2598 886V898" stroke="#8fff70"/>
<path d="M390 886V898M404 886V898M406 886V898M410 886V898M420 886V898M422 886V898M428 886V898M430 886V898M440 886V898M442 886V898M464 886V898M486 886V898M490 886V898M502 886V898M518 886V898M522 886V898M530 886V898M536 886V898M550 886V898M558 886V898M584 886V898M636 886V898M654 886V898M660 886V898M670 886V898M706 886V898M714 886V898M716 886V898M744 886V898M764 886V898M786 886V898M822 886V898M824 886V898M842 886V898M844 886V898M862 886V898M876 886V898M880 886V898M882 886V898M888 886V898M890 886V898M948 886V898M950 886V898M956 886V898M962 886V898M972 886V898M998 886V898M1022 886V898M1028 886V898M1030 886V898M1046 886V898M1062 886V898M1068 886V898M1076 886V898M1078 886V898M1090 886V898M1092 886V898M1108 886V898M1110 886V898M1114 886V898M1134 886V898M1170 886V898M1222 886V898M1224 886V898M1228 886V898M1254 886V898M1256 886V898M1264 886V898M1266 886V898M1280 886V898M1286 886V898M1288 886V898M1290 886V898M1292 886V898M1318 886V898M1356 886V898M1370 886V898M1376 886V898M1384 886V898M1392 886V898M1396 886V898M1414 886V898M1416 886V898M1440 886V898M1442 886V898M1444 886V898M1446 886V898M1448 886V898M1450 886V898M1460 886V898M1478 886V898M1486 886V898M1506 886V898M1530 886V898M1544 886V898M1550 886V898M1552 886V898M1580 886V898M1588 886V898M1604 886V898M1608 886V898M1614 886V898M1616 886V898M1648 886V898M1666 886V898M1668 886V898M1670 886V898M1680 886V898M1682 886V898M1684 886V898M1706 886V898M1710 886V898M1712 886V898M1736 886V898M1750 886V898M1760 886V898M1762 886V898M1768 886V898M1770 886V898M1786 886V898M1848 886V898M1850 886V898M1852 886V898M1856 886V898M1904 886V898M1910 886V898M1928 886V898M1936 886V898M1942 886V898M1950 886V898M1954 886V898M1962 886V898M1968 886V898M1984 886V898M1986 886V898M1994 886V898M2024 886V898M2028 886V898M2030 886V898M2038 886V898M2044 886V898M2048 886V898M2050 886V898M2052 886V898M2080 886V898M2084 886V898M2094 886V898M2096 886V898M2112 886V898M2122 886V898M2124 886V898M2162 886V898M2168 886V898M2186 886V898M2194 886V898M2200 886V898M2228 886V898M2240 886V898M2242 886V898M2260 886V898M2270 886V898M2302 886V898M2308 886V898M2312 886V898M2314 886V898M2320 886V898M2322 886V898M2338 886V898M2344 886V898M2362 886V898M2366 886V898M2368 886V898M2382 886V898M2390 886V898M2392 886V898M2404 886V898M2410 886V898M2412 886V898M2448 886V898M2458 886V898M2472 886V898M2478 886V898M2484 886V898M2488 886V898M2490 886V898M2496 886V898M2524 886V898M2538 886V898M2542 886V898M2564 886V898M2574 886V898M2586 886V898M2596 886V898" stroke="#80ff80"/>
<path d="M412 886V898M424 886V898M426 886V898M438 886V898M448 886V898M458 886V898M460 886V898M462 886V898M504 886V898M564 886V898M592 886V898M596 886V898M608 886V898M618 886V898M644 886V898M646 886V898M656 886V898M682 886V898M726 886V898M736 886V898M738 886V898M796 886V898M830 886V898M848 886V898M854 886V898M856 886V898M872 886V898M874 886V898M906 886V898M908 886V898M936 886V898M938 886V898M946 886V898M966 886V898M980 886V898M1000 886V898M1034 886V898M1044 886V898M1066 886V898M1080 886V898M1094 886V898M1096 886V898M1112 886V898M1120 886V898M1132 886V898M1138 886V898M1140 886V898M1146 886V898M1150 886V898M1152 886V898M1180 886V898M1182 886V898M1184 886V898M1206 886V898M1208 886V898M1210 886V898M1212 886V898M1220 886V898M1238 886V898M1298 886V898M1300 886V898M1326 886V898M1364 886V898M1380 886V898M1388 886V898M1390 886V898M1420 886V898M1424 886V898M1480 886V898M1484 886V898M1494 886V898M1496 886V898M1522 886V898M1528 886V898M1536 886V898M1542 886V898M1574 886V898M1576 886V898M1584 886V898M1586 886V898M1606 886V898M1678 886V898M1732 886V898M1778 886V898M1790 886V898M1792 886V898M1794 886V898M1804 886V898M1806 886V898M1824 886V898M1838 886V898M1840 886V898M1842 886V898M1860 886V898M1940 886V898M1944 886V898M1946 886V898M1972 886V898M1974 886V898M1976 886V898M2008 886V898M2016 886V898M2032 886V898M2034 886V898M2036 886V898M2072 886V898M2074 886V898M2092 886V898M2106 886V898M2108 886V898M2114 886V898M2126 886V898M2128 886V898M2144 886V898M2146 886V898M2148 886V898M2150 886V898M2152 886V898M2172 886V898M2236 886V898M2244 886V898M2256 886V898M2354 886V898M2358 886V898M2360 886V898M2376 886V898M2380 886V898M2384 886V898M2386 886V898M2394 886V898M2398 886V898M2444 886V898M2464 886V898M2468 886V898M2476 886V898M2494 886V898M2502 886V898M2554 886V898M2560 886V898M2570 886V898M2572 886V898M2590 886V898" stroke="#60ff9f"/>
<path d="M382 886V898M408 886V898M604 886V898M628 886V898M668 886V898M674 886V898M676 886V898M692 886V898M724 886V898M728 886V898M732 886V898M748 886V898M754 886V898M756 886V898M780 886V898M800 886V898M832 886V898M834 886V898M858 886V898M928 886V898M930 886V898M942 886V898M984 886V898M992 886V898M1014 886V898M1016 886V898M1058 886V898M1098 886V898M1100 886V898M1156 886V898M1172 886V898M1194 886V898M1244 886V898M1258 886V898M1260 886V898M1296 886V898M1312 886V898M1314 886V898M1334 886V898M1348 886V898M1350 886V898M1352 886V898M1398 886V898M1400 886V898M1406 886V898M1430 886V898M1468 886V898M1472 886V898M1560 886V898M1566 886V898M1582 886V898M1610 886V898M1612 886V898M1632 886V898M1636 886V898M1640 886V898M1644 886V898M1654 886V898M1676 886V898M1734 886V898M1738 886V898M1766 886V898M1800 886V898M1802 886V898M1812 886V898M1844 886V898M1862 886V898M1864 886V898M1866 886V898M1868 886V898M1870 886V898M1880 886V898M1882 886V898M1894 886V898M1920 886V898M1922 886V898M1924 886V898M1938 886V898M1988 886V898M1990 886V898M2020 886V898M2022 886V898M2042 886V898M2070 886V898M2110 886V898M2118 886V898M2132 886V898M2174 886V898M2176 886V898M2210 886V898M2212 886V898M2214 886V898M2216 886V898M2218 886V898M2356 886V898M2414 886V898M2424 886V898M2426 886V898M2428 886V898M2430 886V898M2438 886V898M2514 886V898M2516 886V898M2518 886V898M2526 886V898M2544 886V898M2552 886V898M2588 886V898" stroke="#40ffbf"/>
<path d="M452 886V898M498 886V898M510 886V898M514 886V898M582 886V898M602 886V898M632 886V898M634 886V898M700 886V898M846 886V898M958 886V898M1002 886V898M1032 886V898M1060 886V898M1118 886V898M1124 886V898M1130 886V898M1178 886V898M1202 886V898M1230 886V898M1232 886V898M1242 886V898M1378 886V898M1488 886V898M1500 886V898M1502 886V898M1504 886V898M1562 886V898M1564 886V898M1694 886V898M1696 886V898M1820 886V898M1846 886V898M2026 886V898M2184 886V898M2202 886V898M2250 886V898M2278 886V898M2418 886V898M2548 886V898" stroke="#20ffdf"/>
<path d="M622 886V898M828 886V898M892 886V898M1026 886V898M1234 886V898M1240 886V898M1328 886V898M1330 886V898M1426 886V898M1452 886V898M1454 886V898M1476 886V898M1510 886V898M1672 886V898M1816 886V898M1818 886V898M1872 886V898M1874 886V898M2060 886V898M2258 886V898M2416 886V898M2452 886V898M2454 886V898M2470 886V898M2480 886V898M2562 886V898M2580 886V898M2584 886V898" stroke="#00ffff"/>
<path d="M396 886V898M398 886V898M526 886V898M580 886V898M638 886V898M944 886V898M1036 886V898M1798 886V898M1832 886V898M2010 886V898M2556 886V898" stroke="#00cfff"/>
<path d="M1086 886V898M1088 886V898M2396 886V898" stroke="#009fff"/>
<path d="M388 886V889M394 886V889M400 886V889M434 886V889M436 886V889M444 886V889M456 886V889M466 886V889M470 886V889M488 886V889M496 886V889M506 886V889M508 886V889M520 886V889M524 886V889M538 886V889M540 886V889M542 886V889M560 886V889M568 886V889M570 886V889M586 886V889M594 886V889M598 886V889M606 886V889M614 886V889M616 886V889M620 886V889M624 886V889M626 886V889M630 886V889M664 886V889M666 886V889M688 886V889M696 886V889M704 886V889M712 886V889M720 886V889M730 886V889M734 886V889M742 886V889M750 886V889M752 886V889M758 886V889M762 886V889M772 886V889M776 886V889M792 886V889M794 886V889M810 886V889M816 886V889M818 886V889M820 886V889M826 886V889M836 886V889M852 886V889M864 886V889M870 886V889M898 886V889M900 886V889M902 886V889M904 886V889M914 886V889M934 886V889M952 886V889M954 886V889M960 886V889M970 886V889M994 886V889M996 886V889M1004 886V889M1008 886V889M1010 886V889M1012 886V889M1018 886V889M1020 886V889M1024 886V889M1040 886V889M1048 886V889M1050 886V889M1054 886V889M1056 886V889M1072 886V889M1074 886V889M1082 886V889M1084 886V889M1128 886V889M1142 886V889M1148 886V889M1158 886V889M1160 886V889M1174 886V889M1176 886V889M1192 886V889M1216 886V889M1218 886V889M1236 886V889M1250 886V889M1274 886V889M1336 886V889M1344 886V889M1346 886V889M1358 886V889M1368 886V889M1382 886V889M1386 886V889M1394 886V889M1404 886V889M1418 886V889M1422 886V889M1434 886V889M1438 886V889M1456 886V889M1462 886V889M1464 886V889M1466 886V889M1474 886V889M1490 886V889M1514 886V889M1532 886V889M1538 886V889M1540 886V889M1556 886V889M1568 886V889M1572 886V889M1578 886V889M1620 886V889M1622 886V889M1630 886V889M1646 886V889M1650 886V889M1658 886V889M1704 886V889M1708 886V889M1722 886V889M1728 886V889M1740 886V889M1742 886V889M1746 886V889M1764 886V889M1772 886V889M1808 886V889M1810 886V889M1814 886V889M1834 886V889M1836 886V889M1876 886V889M1898 886V889M1902 886V889M1918 886V889M1930 886V889M1948 886V889M1956 886V889M1958 886V889M1960 886V889M1964 886V889M1970 886V889M1998 886V889M2002 886V889M2006 886V889M2018 886V889M2040 886V889M2062 886V889M2064 886V889M2068 886V889M2098 886V889M2104 886V889M2138 886V889M2158 886V889M2160 886V889M2166 886V889M2190 886V889M2206 886V889M2220 886V889M2222 886V889M2232 886V889M2246 886V889M2252 886V889M2254 886V889M2262 886V889M2272 886V889M2274 886V889M2276 886V889M2286 886V889M2290 886V889M2292 886V889M2294 886V889M2300 886V889M2306 886V889M2316 886V889M2326 886V889M2328 886V889M2342 886V889M2348 886V889M2350 886V889M2352 886V889M2372 886V889M2374 886V889M2400 886V889M2402 886V889M2406 886V889M2408 886V889M2440 886V889M2446 886V889M2450 886V889M2482 886V889M2504 886V889M2506 886V889M2528 886V889M2534 886V889M2546 886V889M2558 886V889M2566 886V889M2568 886V889M2578 886V889M2582 886V889M2600 886V889" stroke="#cfff30"/>
<path d="M376 886V889M378 886V889M384 886V889M402 886V889M404 886V889M422 886V889M476 886V889M478 886V889M502 886V889M546 886V889M556 886V889M576 886V889M636 886V889M640 886V889M642 886V889M662 886V889M672 886V889M708 886V889M714 886V889M722 886V889M744 886V889M778 886V889M784 886V889M808 886V889M838 886V889M850 886V889M910 886V889M912 886V889M940 886V889M962 886V889M964 886V889M976 886V889M978 886V889M982 886V889M986 886V889M1022 886V889M1064 886V889M1070 886V889M1078 886V889M1090 886V889M1104 886V889M1166 886V889M1186 886V889M1190 886V889M1200 886V889M1204 886V889M1226 886V889M1228 886V889M1248 886V889M1252 886V889M1286 886V889M1294 886V889M1316 886V889M1332 886V889M1360 886V889M1362 886V889M1366 886V889M1384 886V889M1392 886V889M1408 886V889M1458 886V889M1478 886V889M1512 886V889M1518 886V889M1520 886V889M1524 886V889M1530 886V889M1544 886V889M1554 886V889M1602 886V889M1604 886V889M1616 886V889M1624 886V889M1626 886V889M1666 886V889M1686 886V889M1688 886V889M1698 886V889M1716 886V889M1718 886V889M1726 886V889M1744 886V889M1786 886V889M1828 886V889M1878 886V889M1904 886V889M1910 886V889M2004 886V889M2044 886V889M2054 886V889M2082 886V889M2088 886V889M2090 886V889M2102 886V889M2130 886V889M2136 886V889M2140 886V889M2208 886V889M2226 886V889M2238 886V889M2240 886V889M2266 886V889M2270 886V889M2284 886V889M2304 886V889M2318 886V889M2324 886V889M2332 886V889M2346 886V889M2378 886V889M2390 886V889M2422 886V889M2460 886V889M2462 886V889M2466 886V889M2474 886V889M2486 886V889M2498 886V889M2522 886V889M2530 886V889M2532 886V889M2592 886V889M2602 886V889" stroke="#bfff40"/>
<path d="M380 886V889M390 886V889M392 886V889M428 886V889M454 886V889M464 886V889M468 886V889M474 886V889M480 886V889M492 886V889M528 886V889M550 886V889M562 886V889M590 886V889M610 886V889M650 886V889M670 886V889M678 886V889M680 886V889M710 886V889M746 886V889M768 886V889M770 886V889M774 886V889M782 886V889M788 886V889M804 886V889M824 886V889M844 886V889M886 886V889M896 886V889M972 886V889M1006 886V889M1030 886V889M1038 886V889M1042 886V889M1062 886V889M1076 886V889M1136 886V889M1168 886V889M1246 886V889M1262 886V889M1268 886V889M1282 886V889M1308 886V889M1342 886V889M1372 886V889M1412 886V889M1440 886V889M1534 886V889M1548 886V889M1552 886V889M1588 886V889M1592 886V889M1600 886V889M1614 886V889M1652 886V889M1656 886V889M1660 886V889M1662 886V889M1684 886V889M1692 886V889M1702 886V889M1752 886V889M1758 886V889M1762 886V889M1782 886V889M1784 886V889M1822 886V889M1890 886V889M1934 886V889M1936 886V889M1952 886V889M1954 886V889M1962 886V889M1966 886V889M1984 886V889M1992 886V889M1996 886V889M2038 886V889M2048 886V889M2078 886V889M2100 886V889M2116 886V889M2156 886V889M2164 886V889M2178 886V889M2188 886V889M2192 886V889M2196 886V889M2204 886V889M2228 886V889M2234 886V889M2260 886V889M2264 886V889M2280 886V889M2288 886V889M2310 886V889M2314 886V889M2322 886V889M2330 886V889M2336 886V889M2340 886V889M2364 886V889M2388 886V889M2420 886V889M2436 886V889M2442 886V889M2510 886V889M2538 886V889M2550 886V889M2598 886V889" stroke="#afff50"/>
<path d="M414 886V889M420 886V889M430 886V889M442 886V889M446 886V889M450 886V889M516 886V889M518 886V889M544 886V889M584 886V889M588 886V889M596 886V889M608 886V889M648 886V889M656 886V889M660 886V889M760 886V889M798 886V889M810 895V898M822 886V889M842 886V889M854 886V889M862 886V889M876 886V889M882 886V889M894 886V889M948 886V889M1096 886V889M1114 886V889M1126 886V889M1152 886V889M1208 886V889M1224 886V889M1256 886V889M1288 886V889M1290 886V889M1292 886V889M1318 886V889M1322 886V889M1354 886V889M1376 886V889M1396 886V889M1414 886V889M1448 886V889M1506 886V889M1522 886V889M1574 886V889M1580 886V889M1606 886V889M1634 886V889M1664 886V889M1674 886V889M1682 886V889M1706 886V889M1712 886V889M1714 886V889M1736 886V889M1748 886V889M1750 886V889M1760 886V889M1770 886V889M1794 886V889M1850 886V889M1860 886V889M1888 886V889M1900 895V898M1902 892V898M1906 886V889M1916 886V889M1928 886V889M1944 886V889M1972 886V889M1978 886V889M1994 886V889M2016 886V889M2030 886V889M2120 886V889M2150 886V889M2158 895V898M2162 886V889M2182 886V889M2194 886V889M2222 895V898M2242 886V889M2246 892V898M2302 886V889M2308 886V889M2320 886V889M2334 886V889M2382 886V889M2404 886V889M2410 886V889M2456 886V889M2488 886V889M2524 886V889M2574 886V889M2596 886V889" stroke="#9fff60"/>
<path d="M418 892V898M426 886V889M448 886V889M486 886V889M490 886V889M494 895V898M536 886V889M598 895V898M630 892V898M644 886V889M646 886V889M734 892V898M738 886V889M758 895V898M820 892V898M856 886V889M874 886V889M890 886V889M900 892V898M908 886V889M946 886V889M954 892V898M970 892V898M1020 895V898M1028 886V889M1050 895V898M1066 886V889M1084 895V898M1108 886V889M1110 886V889M1170 886V889M1222 886V889M1252 895V898M1254 886V889M1266 886V889M1274 892V898M1346 895V898M1356 886V889M1364 886V889M1382 895V898M1446 886V889M1486 886V889M1540 892V898M1576 886V889M1608 886V889M1668 886V889M1670 886V889M1710 886V889M1754 892V898M1756 895V898M1774 892V898M1778 886V889M1836 892V898M1842 886V889M1848 886V889M1856 886V889M1942 886V889M1950 886V889M1968 886V889M2028 886V889M2050 886V889M2074 886V889M2080 886V889M2092 886V889M2096 886V889M2098 892V898M2112 886V889M2122 886V889M2124 886V889M2126 886V889M2144 886V889M2148 886V889M2160 892V898M2172 886V889M2200 886V889M2236 886V889M2296 895V898M2312 886V889M2338 886V889M2360 886V889M2368 886V889M2380 886V889M2386 886V889M2392 886V889M2490 886V889M2494 886V889M2534 892V898M2564 886V889M2578 895V898" stroke="#8fff70"/>
<path d="M412 886V889M424 886V889M466 892V898M564 886V889M606 895V898M618 886V889M668 886V889M676 886V889M736 886V889M780 886V889M796 886V889M830 886V889M838 892V898M848 886V889M872 886V889M884 892V898M914 892V898M932 895V898M938 886V889M966 886V889M980 886V889M1034 886V889M1074 895V898M1080 886V889M1098 886V889M1112 886V889M1138 886V889M1140 886V889M1150 886V889M1164 895V898M1174 892V898M1180 886V889M1184 886V889M1206 886V889M1216 895V898M1324 895V898M1334 886V889M1388 886V889M1390 886V889M1420 886V889M1424 886V889M1458 892V898M1482 895V898M1496 886V889M1536 886V889M1590 895V898M1644 886V889M1650 895V898M1678 886V889M1716 895V898M1738 886V889M1740 892V898M1766 886V889M1780 892V898M1792 886V889M1824 886V889M1840 886V889M1862 886V889M1940 886V889M1956 892V898M1960 895V898M2008 886V889M2032 886V889M2054 892V898M2064 895V898M2070 886V889M2072 886V889M2106 886V889M2110 886V889M2128 886V889M2152 886V889M2166 892V898M2210 886V889M2244 886V889M2268 892V898M2276 892V898M2354 886V889M2384 886V889M2398 886V889M2414 886V889M2444 886V889M2450 892V898M2462 892V898M2468 886V889M2502 886V889M2518 886V889M2570 886V889" stroke="#80ff80"/>
<path d="M488 892V898M538 892V898M554 892V898M642 892V898M678 895V898M702 892V898M740 895V898M774 892V898M790 895V898M832 886V889M894 892V898M912 892V898M942 886V889M968 892V898M978 892V898M984 886V889M992 886V889M1004 895V898M1054 895V898M1100 886V889M1120 886V889M1186 892V898M1284 892V898M1300 886V889M1344 895V898M1352 886V889M1366 892V898M1372 895V898M1410 895V898M1412 895V898M1436 895V898M1472 886V889M1474 895V898M1484 886V889M1498 892V898M1546 892V898M1634 892V898M1704 892V898M1718 892V898M1728 895V898M1730 892V898M1732 886V889M1752 892V898M1758 892V898M1784 892V898M1790 886V889M1804 886V889M1806 886V889M1854 892V898M1864 886V889M1880 886V889M1888 892V898M1926 895V898M1946 886V889M1974 886V889M1976 886V889M2034 886V889M2046 892V898M2108 886V889M2114 886V889M2118 886V889M2176 886V889M2192 892V898M2256 886V889M2330 895V898M2350 892V898M2356 886V889M2364 892V898M2388 895V898M2420 895V898M2424 886V889M2426 886V889M2430 886V889M2442 892V898M2460 895V898M2506 895V898M2572 886V889M2590 886V889M2600 892V898" stroke="#70ff8f"/>
<path d="M498 886V889M502 895V898M530 895V898M604 886V889M628 886V889M632 886V889M650 895V898M692 886V889M700 886V889M718 895V898M728 886V889M732 886V889M748 886V889M754 886V889M764 892V898M782 892V898M788 895V898M792 895V898M800 886V889M808 892V898M834 886V889M858 886V889M868 892V898M922 892V898M928 886V889M988 892V898M1008 895V898M1060 886V889M1144 892V898M1156 886V889M1190 895V898M1202 886V889M1222 895V898M1242 886V889M1258 886V889M1266 895V898M1312 886V889M1314 886V889M1322 895V898M1430 886V889M1434 895V898M1468 886V889M1512 892V898M1560 886V889M1566 886V889M1568 895V898M1570 892V898M1610 886V889M1632 886V889M1640 886V889M1654 886V889M1684 895V898M1696 886V889M1750 895V898M1802 886V889M1812 886V889M1848 895V898M1858 895V898M1870 886V889M1882 886V889M1924 886V889M1988 886V889M2006 895V898M2020 886V889M2058 895V898M2078 892V898M2094 895V898M2134 892V898M2142 892V898M2174 886V889M2184 886V889M2218 886V889M2234 892V898M2286 895V898M2306 895V898M2428 886V889M2516 886V889M2536 892V898M2544 886V889M2552 886V889M2586 895V898M2588 886V889M2596 892V898" stroke="#60ff9f"/>
<path d="M382 886V889M388 892V898M390 892V898M452 886V889M542 892V898M572 892V898M636 895V898M724 886V889M756 886V889M786 895V898M842 892V898M1022 892V898M1032 886V889M1058 886V889M1062 895V898M1070 895V898M1090 892V898M1124 886V889M1134 895V898M1172 886V889M1260 886V889M1270 892V898M1296 886V889M1398 886V889M1402 895V898M1406 886V889M1460 895V898M1532 892V898M1572 892V898M1592 892V898M1636 886V889M1706 895V898M1734 886V889M1736 895V898M1770 895V898M1800 886V889M1820 886V889M1844 886V889M1894 886V889M1922 886V889M1938 886V889M1962 892V898M1986 895V898M2028 892V898M2042 886V889M2052 892V898M2088 895V898M2178 895V898M2194 895V898M2200 892V898M2208 895V898M2212 886V889M2318 892V898M2366 892V898M2412 892V898M2432 892V898M2448 892V898M2472 895V898M2486 892V898M2550 895V898M2564 895V898" stroke="#50ffaf"/>
<path d="M474 895V898M510 886V889M512 892V898M516 895V898M562 892V898M610 892V898M618 892V898M736 895V898M760 892V898M814 895V898M828 886V889M840 895V898M958 886V889M1080 895V898M1096 892V898M1112 892V898M1146 895V898M1182 892V898M1230 886V889M1378 886V889M1388 895V898M1418 892V898M1420 892V898M1452 886V889M1476 886V889M1488 886V889M1500 886V889M1504 886V889M1510 886V889M1514 892V898M1520 892V898M1656 892V898M1664 895V898M1678 892V898M1806 895V898M1974 892V898M1992 892V898M2000 892V898M2106 892V898M2250 886V889M2278 886V889M2416 886V889M2418 886V889M2468 892V898M2476 895V898M2584 886V889" stroke="#40ffbf"/>
<path d="M514 886V889M646 892V898M656 895V898M660 895V898M744 892V898M856 895V898M950 895V898M972 892V898M980 895V898M1002 886V889M1026 886V889M1210 892V898M1392 892V898M1424 892V898M1444 892V898M1494 892V898M1506 895V898M1564 886V889M1576 895V898M1614 892V898M1694 886V889M1710 895V898M1712 895V898M1760 895V898M1804 892V898M1818 886V889M1850 892V898M1856 892V898M1874 886V889M2060 886V889M2084 895V898M2112 895V898M2242 895V898M2368 892V898M2502 895V898" stroke="#30ffcf"/>
<path d="M604 895V898M622 886V889M754 895V898M930 892V898M1240 886V889M1296 892V898M1352 892V898M1400 892V898M1426 886V889M1468 895V898M1560 892V898M1816 886V889M1864 892V898M2132 895V898M2214 895V898M2414 895V898M2452 886V889M2454 886V889M2562 886V889" stroke="#20ffdf"/>
<path d="M608 892V898M726 895V898M756 895V898M796 895V898M830 892V898M832 892V898M892 886V889M936 892V898M942 892V898M944 886V889M966 892V898M1094 895V898M1330 886V889M1364 895V898M1454 886V889M1528 892V898M1584 892V898M1636 892V898M1644 895V898M1792 895V898M1872 886V889M1924 892V898M2072 895V898M2110 895V898M2126 895V898M2128 892V898M2172 892V898M2358 895V898M2380 892V898M2470 886V889M2480 886V889M2552 895V898M2580 886V889" stroke="#10ffef"/>
<path d="M514 895V898M1002 895V898M1036 886V889M1820 892V898M2278 892V898" stroke="#00ffff"/>
<path d="M398 886V889M510 892V898M632 895V898M800 895V898M1350 895V898M1378 892V898M1632 895V898M1798 886V889M1832 886V889M1882 892V898M1894 892V898M2118 895V898M2556 886V889" stroke="#00efff"/>
<path d="M638 886V889M892 892V898M1088 886V889M2010 886V889" stroke="#00dfff"/>
<path d="M1032 895V898M1060 895V898M1118 892V898M2416 895V898M2452 892V898M2454 895V898" stroke="#00cfff"/>
<path d="M1086 886V889M2396 886V889" stroke="#00afff"/>
<path d="M2556 895V898" stroke="#009fff"/>
<path d="M396 895V898M1832 895V898" stroke="#0080ff"/>
</g>
<rect class="ln" x="374.5" y="162.5" width="2232" height="736"/>
<path class="ln" d="M692.5 162 v23 M692.5 899 v-24 M1012.5 162 v23 M1012.5 899 v-24 M1331.5 162 v23 M1331.5 899 v-24 M1650.5 162 v23 M1650.5 899 v-24 M1969.5 162 v23 M1969.5 899 v-24 M2288.5 162 v23 M2288.5 899 v-24 M374 285.5 h23 M2607 285.5 h-23 M374 438.5 h23 M2607 438.5 h-23 M374 591.5 h23 M2607 591.5 h-23 M374 744.5 h23 M2607 744.5 h-23 M374 897.5 h23 M2607 897.5 h-23"/>
<text class="lb" transform="translate(359.2 528.8) rotate(-90)" text-anchor="middle" textLength="290.5" lengthAdjust="spacingAndGlyphs">Freq [0, 10875] Hz</text>
<rect x="374" y="1185" width="319" height="53" fill="#0000cf"/>
<rect x="693" y="1870" width="1914" height="53" fill="#800000"/>
<path class="gr" d="M380.5 1188 V1922 M457.5 1188 V1922 M533.5 1188 V1922 M610.5 1188 V1922 M686.5 1188 V1922 M763.5 1188 V1922 M839.5 1188 V1922 M916.5 1188 V1922 M992.5 1188 V1922 M1069.5 1188 V1922 M1145.5 1188 V1922 M1222.5 1188 V1922 M1299.5 1188 V1922 M1375.5 1188 V1922 M1452.5 1188 V1922 M1528.5 1188 V1922 M1605.5 1188 V1922 M1681.5 1188 V1922 M1758.5 1188 V1922 M1834.5 1188 V1922 M1911.5 1188 V1922 M1987.5 1188 V1922 M2064.5 1188 V1922 M2140.5 1188 V1922 M2217.5 1188 V1922 M2293.5 1188 V1922 M2370.5 1188 V1922 M2446.5 1188 V1922 M2523.5 1188 V1922 M2599.5 1188 V1922"/>
<path class="gr" stroke-dashoffset="3" d="M377 1211.5 H2606 M377 1264.5 H2606 M377 1317.5 H2606 M377 1369.5 H2606 M377 1422.5 H2606 M377 1475.5 H2606 M377 1527.5 H2606 M377 1580.5 H2606 M377 1632.5 H2606 M377 1685.5 H2606 M377 1738.5 H2606 M377 1790.5 H2606 M377 1843.5 H2606 M377 1896.5 H2606"/>
<rect class="ln" x="374.5" y="1185.5" width="2232" height="737"/>
<path class="ln" d="M533.5 1185 v23 M533.5 1923 v-24 M916.5 1185 v23 M916.5 1923 v-24 M1299.5 1185 v23 M1299.5 1923 v-24 M1681.5 1185 v23 M1681.5 1923 v-24 M2064.5 1185 v23 M2064.5 1923 v-24 M2446.5 1185 v23 M2446.5 1923 v-24 M374 1264.5 h23 M2607 1264.5 h-23 M374 1369.5 h23 M2607 1369.5 h-23 M374 1475.5 h23 M2607 1475.5 h-23 M374 1580.5 h23 M2607 1580.5 h-23 M374 1685.5 h23 M2607 1685.5 h-23 M374 1790.5 h23 M2607 1790.5 h-23 M374 1896.5 h23 M2607 1896.5 h-23"/>
<text class="tk" transform="translate(534.2 1958) scale(.91 1)" text-anchor="middle">0</text>
<text class="tk" transform="translate(916.8 1958) scale(.91 1)" text-anchor="middle">2</text>
<text class="tk" transform="translate(1299.3 1958) scale(.91 1)" text-anchor="middle">5</text>
<text class="tk" transform="translate(1681.9 1958) scale(.91 1)" text-anchor="middle">8</text>
<text class="tk" transform="translate(2064.4 1958) scale(.91 1)" text-anchor="middle">11</text>
<text class="tk" transform="translate(2447.0 1958) scale(.91 1)" text-anchor="middle">14</text>
<text class="tk" transform="translate(371.4 1277.1) scale(.91 1)" text-anchor="end">2</text>
<text class="tk" transform="translate(371.4 1382.3) scale(.91 1)" text-anchor="end">4</text>
<text class="tk" transform="translate(371.4 1487.6) scale(.91 1)" text-anchor="end">6</text>
<text class="tk" transform="translate(371.4 1592.9) scale(.91 1)" text-anchor="end">8</text>
<text class="tk" transform="translate(371.4 1698.2) scale(.91 1)" text-anchor="end">10</text>
<text class="tk" transform="translate(371.4 1803.5) scale(.91 1)" text-anchor="end">12</text>
<text class="tk" transform="translate(371.4 1908.8) scale(.91 1)" text-anchor="end">14</text>
<text class="lb" x="1492.3" y="1987.7" text-anchor="middle" textLength="314.5" lengthAdjust="spacingAndGlyphs">Temps en secondes</text>
<text class="lb" transform="translate(320.2 1553) rotate(-90)" text-anchor="middle" textLength="231.5" lengthAdjust="spacingAndGlyphs">Unites de sons</text>
</svg>
</body></html>
